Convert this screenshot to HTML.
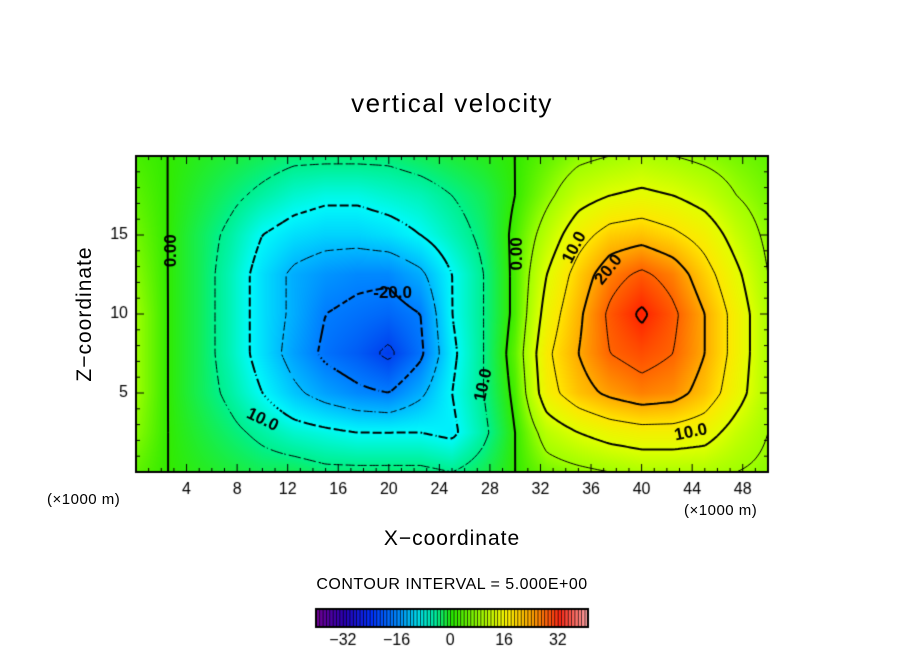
<!DOCTYPE html>
<html><head><meta charset="utf-8"><style>
body{margin:0;background:#fff;width:904px;height:654px;overflow:hidden;position:relative;font-family:"Liberation Sans",sans-serif}
.t{position:absolute;color:#000;white-space:nowrap}
</style></head><body>
<div class="t" style="left:0;width:904px;text-align:center;top:88px;font-size:26px;letter-spacing:1.5px">vertical velocity</div>
<div class="t" style="left:-10px;top:302px;width:190px;text-align:center;font-size:21px;letter-spacing:1px;transform:rotate(-90deg)">Z−coordinate</div>
<div class="t" style="left:0;width:904px;text-align:center;top:527px;font-size:21px;letter-spacing:1px">X−coordinate</div>
<div class="t" style="left:47px;top:491px;font-size:15px;letter-spacing:0.5px">(×1000 m)</div>
<div class="t" style="left:684px;top:502px;font-size:15px;letter-spacing:0.5px">(×1000 m)</div>
<div class="t" style="left:0;width:904px;text-align:center;top:576px;font-size:16px;letter-spacing:0.5px">CONTOUR INTERVAL = 5.000E+00</div>
<canvas id="plot" width="904" height="654" style="position:absolute;left:0;top:0"></canvas>
<script>
const xCoords=[0,2.5,5,7.5,10,12.5,15,17.5,20,22.5,25,27.5,30,32.5,35,37.5,40,42.5,45,47.5,50];
const zCoords=[0,2.5,5,7.5,10,12.5,15,17.5,20];
const w0=[2,0,-1,-2,-3,-3,-4,-4,-4,-4,-5,-3,0,3,4,5,6,6,6,5,4];
const w1=[4,0,-2,-4,-6,-8,-9,-10,-10,-10,-11,-6,0,7,10,12,13,13,12,8,5];
const w2=[5,0,-3,-6,-10,-14,-17,-19,-20,-16,-10,-5,1,13,18,21,23,22,18,12,6];
const w3=[5,0,-3,-7,-12,-17,-21,-23,-26,-21,-11,-5,2,14,20,25,27,25,20,13,6];
const w4=[5,0,-3,-7,-12,-16,-20,-21,-22,-20,-10,-5,1,12,19,26,31,26,20,13,6];
const w5=[4,0,-3,-7,-12,-16,-18,-19,-19,-16,-10,-5,1,10,17,23,26,23,17,11,5];
const w6=[3,0,-3,-6,-10,-12,-13,-13,-12,-10,-7,-4,1,7,13,17,18,16,13,8,4];
const w7=[2,0,-2,-4,-6,-8,-9,-9,-8,-7,-5,-3,0,4,8,10,11,10,8,5,3];
const w8=[1,0,-1,-2,-3,-4,-4,-4,-4,-3,-2,-1,0,2,4,5,6,5,4,3,2];
const field=[w0,w1,w2,w3,w4,w5,w6,w7,w8];
const xTicks=[4,8,12,16,20,24,28,32,36,40,44,48];
const zTicks=[5,10,15];
const cbTicks=[-32,-16,0,16,32];
const levels=[-25,-20,-15,-10,-5,0,5,10,15,20,25,30];

const L=136,R=768,T=156,B=472,XMAX=50,ZMAX=20;
const sx=x=>L+(x/XMAX)*(R-L), sz=z=>B-(z/ZMAX)*(B-T);
const cv=document.getElementById('plot'),ctx=cv.getContext('2d');
const fstops=[[-32,0,0,200],[-25,0,70,240],[-20,0,125,255],[-15,0,185,255],[-10,0,250,250],[-5,0,240,140],[0,50,235,0],[5,160,255,0],[10,225,255,0],[15,255,230,0],[20,255,170,0],[25,255,100,0],[32,255,20,0]];
const cstops=[[-40,110,0,150],[-32,40,0,180],[-24,0,50,255],[-16,0,140,255],[-10,0,225,235],[-5,0,240,160],[0,40,235,0],[8,150,250,0],[16,255,250,0],[24,255,160,0],[32,255,40,20],[40,255,160,160]];
function col(v,stops){if(v<=stops[0][0])return stops[0].slice(1);for(let i=1;i<stops.length;i++){if(v<=stops[i][0]){const a=stops[i-1],b=stops[i],t=(v-a[0])/(b[0]-a[0]);return [0,1,2].map(k=>Math.round(a[k+1]+(b[k+1]-a[k+1])*t));}}return stops[stops.length-1].slice(1);}
function val(x,z){const dx=xCoords[1]-xCoords[0],dz=zCoords[1]-zCoords[0];let i=Math.min(Math.floor(x/dx),xCoords.length-2),j=Math.min(Math.floor(z/dz),zCoords.length-2);i=Math.max(0,i);j=Math.max(0,j);const tx=(x-xCoords[i])/dx,tz=(z-zCoords[j])/dz;const a=field[j][i],b=field[j][i+1],c=field[j+1][i],d=field[j+1][i+1];return a*(1-tx)*(1-tz)+b*tx*(1-tz)+c*(1-tx)*tz+d*tx*tz;}
const img=ctx.createImageData(R-L,B-T);
for(let py=0;py<B-T;py++)for(let px=0;px<R-L;px++){const x=(px+0.5)/(R-L)*XMAX,z=(B-T-py-0.5)/(B-T)*ZMAX;const c=col(val(x,z),fstops);const o=(py*(R-L)+px)*4;img.data[o]=c[0];img.data[o+1]=c[1];img.data[o+2]=c[2];img.data[o+3]=255;}
ctx.putImageData(img,L,T);
const N=3,nx=Math.round((R-L)/N),nz=Math.round((B-T)/N);
const G=[];for(let j=0;j<=nz;j++){G.push([]);for(let i=0;i<=nx;i++)G[j].push(val(i/nx*XMAX,j/nz*ZMAX));}
levels.forEach(lv=>{
 ctx.beginPath();
 ctx.lineWidth=(lv%10===0)?2:1;
 ctx.strokeStyle='#000';
 for(let j=0;j<nz;j++)for(let i=0;i<nx;i++){
  if(lv<0 && ((i+j)%4===3)) continue;
  const v=[G[j][i],G[j][i+1],G[j+1][i+1],G[j+1][i]];
  const p=[[i,j],[i+1,j],[i+1,j+1],[i,j+1]];
  const pts=[];
  for(let k=0;k<4;k++){const a=v[k],b=v[(k+1)%4];if((a<lv)!==(b<lv)){const t=(lv-a)/(b-a);const pa=p[k],pb=p[(k+1)%4];pts.push([pa[0]+(pb[0]-pa[0])*t,pa[1]+(pb[1]-pa[1])*t]);}}
  for(let k=0;k+1<pts.length;k+=2){ctx.moveTo(sx(pts[k][0]/nx*XMAX),sz(pts[k][1]/nz*ZMAX));ctx.lineTo(sx(pts[k+1][0]/nx*XMAX),sz(pts[k+1][1]/nz*ZMAX));}
 }
 ctx.stroke();
});
ctx.lineWidth=2;ctx.strokeStyle='#000';ctx.strokeRect(L,T,R-L,B-T);
ctx.lineWidth=1;ctx.beginPath();
for(let x=1;x<XMAX;x++){const len=(x%4===0)?8:4;ctx.moveTo(sx(x),B);ctx.lineTo(sx(x),B-len);ctx.moveTo(sx(x),T);ctx.lineTo(sx(x),T+len);}
for(let z=1;z<ZMAX;z++){const len=(z%5===0)?8:4;ctx.moveTo(L,sz(z));ctx.lineTo(L+len,sz(z));ctx.moveTo(R,sz(z));ctx.lineTo(R-len,sz(z));}
ctx.stroke();
ctx.fillStyle='#000';ctx.font='16px "Liberation Sans", sans-serif';ctx.textAlign='center';ctx.textBaseline='middle';
xTicks.forEach(x=>ctx.fillText(String(x),sx(x),490));
ctx.textAlign='right';zTicks.forEach(z=>ctx.fillText(String(z),128,sz(z)));
ctx.font='bold 17px "Liberation Sans", sans-serif';ctx.textAlign='center';
function lab(t,x,z,a){ctx.save();ctx.translate(sx(x),sz(z));ctx.rotate(a);ctx.fillText(t,0,0);ctx.restore();}
lab('0.00',2.8,14,-Math.PI/2);lab('0.00',30.2,13.8,-Math.PI/2);lab('-20.0',20.3,11.3,0);lab('10.0',10,3.3,0.45);lab('10.0',27.5,5.5,-Math.PI/2.3);lab('10.0',34.7,14.2,-1.1);lab('20.0',37.4,12.8,-0.9);lab('10.0',43.9,2.5,-0.2);
const CL=316,CR=588,CT=609,CB=627,VMIN=-40,VMAX=41;
const cx=v=>CL+(v-VMIN)/(VMAX-VMIN)*(CR-CL);
for(let v=VMIN;v<VMAX;v+=1){const c=col(v,cstops);ctx.fillStyle=`rgb(${c[0]},${c[1]},${c[2]})`;ctx.fillRect(cx(v),CT,cx(v+1)-cx(v)+0.5,CB-CT);ctx.fillStyle='#000';ctx.fillRect(cx(v),CT,0.7,CB-CT);}
ctx.lineWidth=2;ctx.strokeRect(CL,CT,CR-CL,CB-CT);
ctx.fillStyle='#000';ctx.font='16px "Liberation Sans", sans-serif';ctx.textAlign='center';
cbTicks.forEach(v=>ctx.fillText(String(v).replace('-','−'),cx(v),641));
</script>
</body></html>
